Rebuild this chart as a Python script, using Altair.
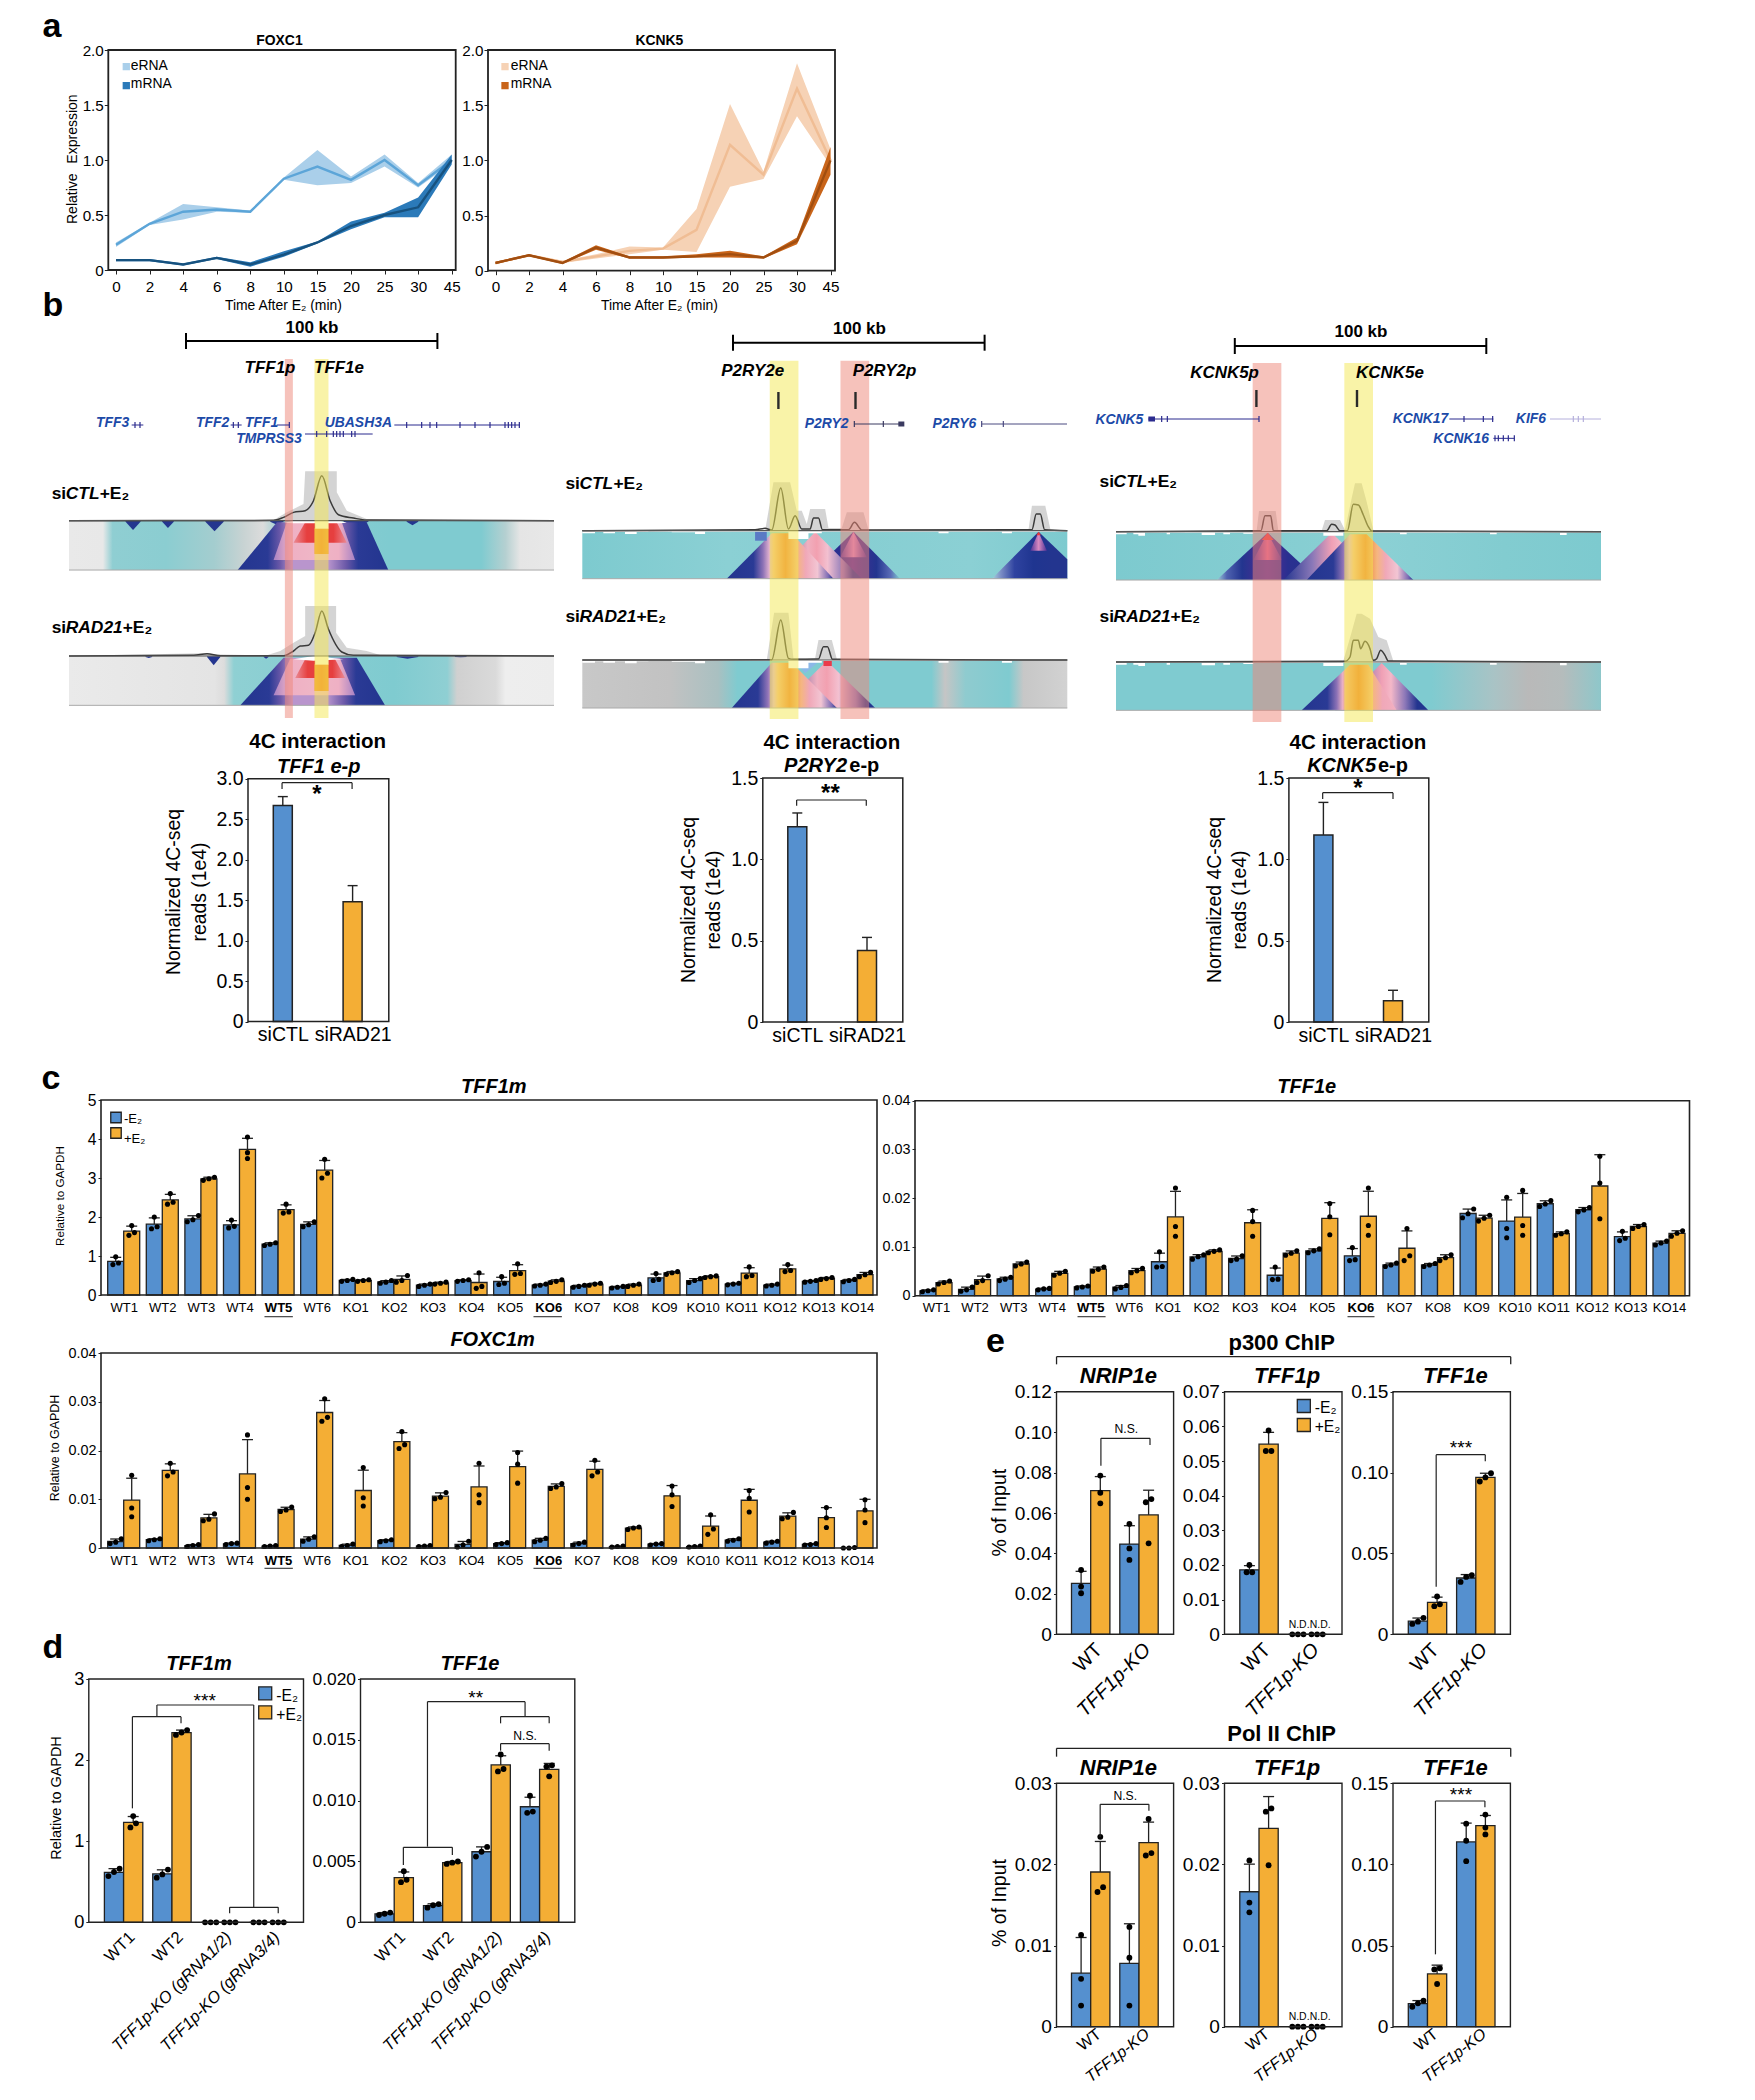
import json
import numpy as np
import pandas as pd
import altair as alt

W, H = 1739, 2084
NARROW = "__narrow"
SANS = "Liberation Sans"
NS = .87
BLUE, ORANGE = "#5590cf", "#f4ae35"
INK = "#222222"
TEAL = "#7fcbd0"

# ---------- data: panel a ----------
TIMES = ["0", "2", "4", "6", "8", "10", "15", "20", "25", "30", "45"]
FOX_E = [.23, .42, .53, .55, .53, .83, .94, .82, 1.0, .77, 1.0]
FOX_E_LO = [.21, .41, .46, .53, .52, .82, .77, .79, .94, .75, .97]
FOX_E_HI = [.25, .43, .60, .57, .54, .84, 1.09, .85, 1.05, .79, 1.05]
FOX_M = [.09, .09, .05, .11, .05, .14, .25, .40, .50, .57, 1.0]
FOX_M_LO = [.08, .08, .04, .10, .03, .12, .24, .37, .48, .48, .96]
FOX_M_HI = [.10, .10, .06, .12, .07, .17, .26, .44, .52, .66, 1.05]
KCN_E = [.07, .14, .08, .13, .18, .20, .37, 1.14, .87, 1.65, 1.0]
KCN_E_LO = [.06, .13, .07, .11, .15, .19, .17, .76, .83, 1.40, .95]
KCN_E_HI = [.08, .15, .09, .15, .22, .21, .56, 1.51, .90, 1.88, 1.10]
KCN_M = [.07, .14, .07, .21, .12, .12, .13, .15, .12, .27, 1.0]
KCN_M_LO = [.06, .13, .06, .19, .11, .11, .12, .12, .11, .24, .87]
KCN_M_HI = [.08, .15, .08, .23, .13, .13, .15, .18, .13, .30, 1.12]

# ---------- data: panel b, 4C ----------
FOURC_LABELS = ["siCTL", "siRAD21"]
FOURC_TFF1 = [2.67, 1.48]
FOURC_TFF1_ERR = [.11, .20]
FOURC_P2RY2 = [1.20, .44]
FOURC_P2RY2_ERR = [.085, .08]
FOURC_KCNK5 = [1.15, .13]
FOURC_KCNK5_ERR = [.20, .065]

# ---------- data: panel b, signal tracks ----------
C1R1_GX = [25, 640, 680, 730, 735, 830, 830, 860, 920, 1483]
C1R1_GY = [0, 2, 25, 50, 148, 148, 85, 30, 5, 0]
C1R1_LX = [25, 640, 670, 700, 735, 760, 785, 810, 835, 880, 920, 1483]
C1R1_LY = [0, 1, 10, 25, 30, 60, 135, 60, 18, 8, 2, 0]
C1R2_GX = [25, 420, 460, 620, 660, 700, 735, 735, 828, 828, 860, 920, 960, 1483]
C1R2_GY = [0, 8, 5, 2, 15, 40, 60, 150, 150, 70, 25, 15, 3, 0]
C1R2_LX = [25, 400, 440, 480, 670, 700, 720, 745, 765, 785, 805, 845, 880, 1483]
C1R2_LY = [0, 2, 7, 1, 1, 15, 30, 32, 70, 135, 80, 12, 2, 0]
C2R1_GX = [22, 570, 595, 645, 665, 680, 695, 705, 750, 760, 800, 815, 865, 880, 1360, 1370, 1410, 1425, 1476]
C2R1_GY = [0, 0, 145, 145, 60, 60, 20, 65, 65, 8, 8, 55, 55, 3, 5, 75, 75, 5, 0]
C2R1_LX = [22, 540, 570, 590, 617, 640, 660, 680, 705, 715, 730, 742, 820, 838, 860, 1370, 1383, 1395, 1408, 1476]
C2R1_LY = [0, 3, 7, 2, 128, 5, 45, 5, 5, 38, 38, 3, 3, 25, 2, 3, 50, 50, 3, 0]
C2R2_GX = [22, 575, 597, 640, 655, 720, 730, 770, 785, 1476]
C2R2_GY = [0, 0, 142, 142, 5, 5, 60, 60, 3, 0]
C2R2_LX = [22, 590, 617, 640, 655, 730, 745, 757, 772, 1476]
C2R2_LY = [0, 1, 120, 5, 2, 3, 40, 40, 2, 0]
C3R1_GX = [18, 440, 447, 497, 505, 635, 645, 690, 705, 725, 735, 755, 770, 790, 1473]
C3R1_GY = [0, 3, 62, 62, 3, 3, 35, 35, 5, 100, 145, 145, 90, 5, 0]
C3R1_LX = [18, 453, 465, 482, 490, 650, 665, 675, 690, 712, 730, 745, 760, 775, 785, 1473]
C3R1_LY = [0, 3, 48, 48, 3, 3, 22, 20, 3, 3, 82, 80, 50, 15, 2, 0]
C3R2_GX = [18, 700, 725, 740, 755, 780, 805, 830, 850, 1473]
C3R2_GY = [0, 3, 90, 145, 145, 130, 75, 65, 3, 0]
C3R2_LX = [18, 705, 720, 730, 745, 752, 765, 780, 790, 800, 812, 825, 835, 1473]
C3R2_LY = [0, 2, 15, 65, 65, 40, 62, 40, 5, 10, 35, 20, 3, 0]
C2_NOTCH_X = [22, 60, 85, 120, 150, 185, 220, 290, 360, 390, 600, 640, 700, 740, 880, 1090, 1120, 1280, 1310, 1476]
C2_NOTCH_D = [8, 4, 8, 4, 10, 4, 3, 5, 10, 3, 3, 25, 8, 3, 3, 8, 3, 8, 3, 3]
C3_NOTCH_X = [18, 50, 70, 85, 105, 170, 180, 275, 315, 340, 360, 400, 430, 520, 640, 700, 870, 890, 1140, 1160, 1280, 1350, 1370, 1473]
C3_NOTCH_D = [8, 3, 8, 12, 3, 8, 3, 10, 3, 8, 3, 6, 3, 3, 12, 3, 8, 3, 8, 3, 3, 10, 3, 3]

# ---------- data: panel c ----------
CLONES = ["WT1", "WT2", "WT3", "WT4", "WT5", "WT6"] + [f"KO{i}" for i in range(1, 15)]
TFF1M_B = [[.78, .82, .98], [1.7, 1.75, 2.0], [1.88, 1.93, 2.04], [1.72, 1.76, 1.92], [1.27, 1.3, 1.34], [1.75, 1.8, 1.88],
           [.35, .37, .4], [.3, .33, .37], [.22, .25, .28], [.35, .37, .39], [.27, .3, .47], [.23, .25, .28], [.2, .22, .25],
           [.18, .2, .22], [.37, .4, .55], [.32, .37, .42], [.26, .28, .3], [.23, .25, .28], [.33, .35, .37], [.34, .37, .4]]
TFF1M_O = [[1.53, 1.6, 1.78], [2.33, 2.38, 2.6], [2.94, 2.98, 3.02], [3.5, 3.65, 4.05], [2.1, 2.13, 2.33], [3.0, 3.12, 3.48],
           [.35, .37, .39], [.33, .37, .5], [.28, .3, .33], [.17, .22, .57], [.53, .55, .8], [.32, .35, .39], [.25, .28, .3],
           [.22, .25, .28], [.53, .57, .6], [.45, .47, .49], [.47, .5, .72], [.6, .63, .78], [.4, .42, .45], [.47, .52, .58]]
TFF1E_B = [[.0008, .001, .0012], [.0009, .0012, .0018], [.0031, .0034, .0038], [.0012, .0014, .0015], [.0016, .0018, .002],
           [.0014, .0017, .0021], [.0059, .006, .009], [.0075, .008, .0084], [.0072, .0075, .0082], [.0033, .0034, .0059],
           [.0088, .0092, .0096], [.0072, .0074, .0099], [.006, .0063, .0067], [.006, .0063, .0066], [.016, .0168, .0178],
           [.0119, .0138, .0202], [.0183, .0188, .0195], [.0172, .0176, .0181], [.0113, .0118, .0132], [.0104, .0108, .0112]]
TFF1E_O = [[.0024, .0027, .003], [.0027, .0031, .0041], [.0061, .0065, .0069], [.0042, .0046, .005], [.005, .0054, .0059],
           [.0047, .0051, .0056], [.0122, .0142, .0221], [.0088, .0091, .0094], [.0122, .0152, .0175], [.0083, .0087, .0092],
           [.0125, .0162, .0189], [.0124, .0144, .0221], [.0072, .0082, .0138], [.0072, .0078, .0084], [.0153, .0159, .0165],
           [.0124, .0144, .0216], [.0124, .0127, .0131], [.0158, .0231, .0286], [.0138, .0142, .0146], [.0122, .0128, .0133]]
FOXC_B = [[.0009, .0012, .0019], [.0015, .0017, .0019], [.0003, .0005, .0007], [.0007, .0009, .001], [.0003, .0004, .0005],
          [.0014, .0018, .0023], [.0003, .0005, .0008], [.0013, .0015, .0017], [.0003, .0004, .0005], [.0002, .0006, .0014],
          [.0007, .0009, .0011], [.0013, .0016, .002], [.0006, .0009, .0012], [.0002, .0003, .0004], [.0006, .0008, .0009],
          [.0002, .0003, .0004], [.0014, .0016, .0019], [.001, .0012, .0014], [.0006, .0007, .0009], [0, 0, .0001]]
FOXC_O = [[.0064, .0082, .0149], [.0148, .0156, .0174], [.0056, .0059, .007], [.01, .0124, .0232], [.0075, .0078, .0084],
          [.026, .0268, .0306], [.0086, .0103, .0165], [.0204, .0212, .0239], [.0101, .0104, .0114], [.0093, .0109, .0174],
          [.0133, .0172, .0196], [.0122, .0125, .0132], [.0148, .0156, .018], [.0038, .0041, .0043], [.0085, .0109, .0127],
          [.0028, .0039, .0068], [.0074, .0102, .0118], [.006, .0063, .0073], [.0042, .0062, .0083], [.0052, .0078, .0099]]

# ---------- data: panel d ----------
D_GROUPS = ["WT1", "WT2", "TFF1p-KO (gRNA1/2)", "TFF1p-KO (gRNA3/4)"]
D1_B = [[.57, .62, .66], [.55, .59, .65], [0, 0, 0], [0, 0, 0]]
D1_O = [[1.17, 1.22, 1.31], [2.31, 2.34, 2.37], [0, 0, 0], [0, 0, 0]]
D2_B = [[.0006, .0007, .0008], [.0012, .0014, .0015], [.0054, .0058, .0062], [.0090, .0091, .0104]]
D2_O = [[.0033, .0035, .0042], [.0048, .0049, .005], [.0124, .0126, .0138], [.012, .0128, .0129]]

# ---------- data: panel e ----------
E_GROUPS = ["WT", "TFF1p-KO"]
P1_B = [[.0203, .0236, .0318], [.0368, .0425, .0546]]
P1_O = [[.0648, .07, .0785], [.045, .0653, .0669]]
P2_B = [[.0179, .0179, .02], [0, 0, 0]]
P2_O = [[.0529, .0529, .0588], [0, 0, 0]]
P3_B = [[.0064, .0078, .0102], [.0324, .0355, .0365]]
P3_O = [[.0174, .0186, .0234], [.0945, .097, .0996]]
Q1_B = [[.0026, .0059, .0113], [.0026, .0085, .0123]]
Q1_O = [[.0166, .0172, .0234], [.0211, .0214, .0256]]
Q2_B = [[.0141, .0153, .0205], [0, 0, 0]]
Q2_O = [[.0199, .0265, .0269], [0, 0, 0]]
Q3_B = [[.0123, .0144, .016], [.102, .1146, .1251]]
Q3_O = [[.0263, .0353, .036], [.1185, .1227, .1307]]

# ---------- helpers ----------
ZOOMS = {1: (1.782, 3, 0, 0), 2: (2.613, 2.06, 0, 290), 3: (1.479, 2.06, 560, 300), 4: (1.762, 3, 0, 1060),
         5: (1.889, 3, 870, 1060), 6: (1.762, 3, 0, 1330), 7: (2.613, 3, 0, 1620), 8: (2.75, 3, 970, 1320),
         9: (2.75, 3, 970, 1710), 10: (3, 3, 60, 400), 11: (3, 3, 575, 400), 12: (3, 3, 1110, 400)}


def zc(z, x, y):
    sx, sy, ox, oy = ZOOMS[z]
    return ox + x / sx, oy + y / sy


def Q(dom, rng):
    return alt.Scale(domain=list(dom), range=list(rng), nice=False, zero=False)


PX = Q((0, 1755), (-8, 1747))
PY = Q((0, 2100), (-8, 2092))


def G(stops):
    return alt.LinearGradient(gradient="linear", stops=[alt.GradientStop(offset=o, color=c) for o, c in stops],
                              x1=0, x2=1, y1=0, y2=0)


def fnt(font, size):
    if font == NARROW:
        return SANS, round(size * NS, 2)
    return font, size


TEXTS, RULES, SQUARES = [], [], []


def T(t, x, y, size, font=NARROW, weight="normal", style="normal", angle=0, align="center", color="black"):
    font, size = fnt(font, size)
    TEXTS.append(dict(t=t, x=x, y=y, size=size, font=font, weight=weight, style=style, angle=angle, align=align, color=color))


def Tz(z, t, zx, zy, size, **k):
    x, y = zc(z, zx, zy)
    T(t, x, y, size, **k)


def R(x0, y0, x1, y1, color=INK, sw=1.2):
    RULES.append(dict(x=x0, y=y0, x2=x1, y2=y1, color=color, sw=sw))


def Rz(z, zx0, zy0, zx1, zy1, color=INK, sw=1.2):
    a = zc(z, zx0, zy0)
    b = zc(z, zx1, zy1)
    R(a[0], a[1], b[0], b[1], color, sw)


def bracket(z, x0, x1, y, d0, d1, sw=1.2):
    Rz(z, x0, y, x1, y, sw=sw)
    Rz(z, x0, y, x0, d0, sw=sw)
    Rz(z, x1, y, x1, d1, sw=sw)


def yaxis(px, vals, fmt, size, font=NARROW, pad=2, tick=3):
    font, size = fnt(font, size)
    expr = f"datum.value==0?'0':format(datum.value,'{fmt}')"
    return alt.Axis(orient="left", offset=-(px - 8), values=vals, labelExpr=expr, title=None, grid=False, domain=False,
                    tickColor=INK, tickSize=tick, labelFont=font, labelFontSize=size, labelColor="black",
                    labelPadding=pad, labelOverlap=False, labelFlush=False, labelBound=False)


def xaxis(py, names, size, font=NARROW, pad=6, tick=3, angle=None, **extra):
    font, size = fnt(font, size)
    expr = f"{json.dumps(names)}[datum.value]"
    kw = dict(orient="bottom", offset=(py - 8) - H, values=list(range(len(names))), labelExpr=expr, title=None, grid=False,
              domain=False, tickColor=INK, tickSize=tick, labelFont=font, labelFontSize=size, labelColor="black",
              labelPadding=pad, labelOverlap=False, labelFlush=False, labelBound=False)
    if angle is not None:
        kw.update(labelAngle=angle, labelAlign="right", labelBaseline="middle")
    kw.update(extra)
    return alt.Axis(**kw)


def frame(sx, sy, ax, ay, sw=1.4):
    d = pd.DataFrame([dict(a=sx["domain"][0], b=sx["domain"][1], c=sy["domain"][0], d=sy["domain"][1])])
    return alt.Chart(d).mark_rect(fillOpacity=0, stroke=INK, strokeWidth=sw).encode(
        x=alt.X("a:Q", scale=alt.Scale(**sx), axis=ax), x2="b:Q",
        y=alt.Y("c:Q", scale=alt.Scale(**sy), axis=ay), y2="d:Q")


def sdict(dom, rng):
    return dict(domain=list(dom), range=list(rng), nice=False, zero=False)


def group_dom(x0, x1, c0, c1, n):
    step = (c1 - c0) / (n - 1)
    return ((x0 - c0) / step, (n - 1) + (x1 - c1) / step), step


def swarm(vals, py, dx, t=5.5):
    p = [v * py for v in vals]
    d0, d1 = p[1] - p[0], p[2] - p[1]
    if d0 < t and d1 < t:
        return [-dx, 0, dx]
    if d0 < t:
        return [-dx / 2, dx / 2, 0]
    if d1 < t:
        return [0, -dx / 2, dx / 2]
    return [0, 0, 0]


def bar_panel(x0, x1, y0, y1, c0, c1, blue, orange, names, ymax, yvals, fmt, barw, ysize, xsize, font=NARROW,
              xangle=None, xpad=6, xtick=3, ypad=2, dot=28, xextra=None, ftw=1.4):
    n = len(names)
    dom, step = group_dom(x0, x1, c0, c1, n)
    w = barw / step
    sx = sdict(dom, (x0 - 8, x1 - 8))
    sy = sdict((0, ymax), (y1 - 8, y0 - 8))
    py = (y1 - y0) / ymax
    bars, pts, errs = [], [], []
    for i in range(n):
        for lab, reps, xa, xb in (("-E2", blue[i], i - w, i), ("+E2", orange[i], i, i + w)):
            m = float(np.mean(reps))
            bars.append(dict(x=xa, x2=xb, v=m, b=0, s=lab))
            cx = (xa + xb) / 2
            for v, o in zip(reps, swarm(reps, py, 5.6 / step)):
                pts.append(dict(x=cx + o, v=v))
            if m > 0:
                e = m + float(np.std(reps, ddof=1))
                errs.append(dict(x=cx, xa=cx - 5.5 / step, xb=cx + 5.5 / step, v=m, e=e))
    ssx, ssy = alt.Scale(**sx), alt.Scale(**sy)
    ax = xaxis(y1, names, xsize, font=font, angle=xangle, pad=xpad, tick=xtick, **(xextra or {}))
    ay = yaxis(x0, yvals, fmt, ysize, font=font, pad=ypad)
    X = lambda f: alt.X(f, scale=ssx, axis=ax)
    Y = lambda f: alt.Y(f, scale=ssy, axis=ay)
    color = alt.Color("s:N", scale=alt.Scale(domain=["-E2", "+E2"], range=[BLUE, ORANGE]), legend=None)
    lb = alt.Chart(pd.DataFrame(bars)).mark_rect(stroke=INK, strokeWidth=1.3).encode(x=X("x:Q"), x2="x2:Q", y=Y("v:Q"), y2="b:Q", color=color)
    le1 = alt.Chart(pd.DataFrame(errs)).mark_rule(color=INK, strokeWidth=1.3).encode(x=X("x:Q"), y=Y("v:Q"), y2="e:Q")
    le2 = alt.Chart(pd.DataFrame(errs)).mark_rule(color=INK, strokeWidth=1.3).encode(x=X("xa:Q"), x2="xb:Q", y=Y("e:Q"))
    lp = alt.Chart(pd.DataFrame(pts)).mark_circle(color="black", size=dot, opacity=1).encode(x=X("x:Q"), y=Y("v:Q"))
    return alt.layer(lb, le1, le2, lp, frame(sx, sy, ax, ay, ftw))


def line_panel(x0, x1, y0, y1, c0, c1, series):
    dom, step = group_dom(x0, x1, c0, c1, len(TIMES))
    sx = sdict(dom, (x0 - 8, x1 - 8))
    sy = sdict((0, 2), (y1 - 8, y0 - 8))
    ssx, ssy = alt.Scale(**sx), alt.Scale(**sy)
    ax = xaxis(y1, TIMES, 17.5, pad=5, tick=4)
    ay = yaxis(x0, [0, .5, 1, 1.5, 2], ".1f", 17.5, pad=1, tick=4)
    layers = []
    for mean, lo, hi, band, line in series:
        d = pd.DataFrame(dict(i=range(len(TIMES)), m=mean, lo=lo, hi=hi))
        layers.append(alt.Chart(d).mark_area(color=band, opacity=1).encode(
            x=alt.X("i:Q", scale=ssx, axis=ax), y=alt.Y("lo:Q", scale=ssy, axis=ay), y2="hi:Q"))
        layers.append(alt.Chart(d).mark_line(color=line, strokeWidth=2.4).encode(
            x=alt.X("i:Q", scale=ssx, axis=ax), y=alt.Y("m:Q", scale=ssy, axis=ay)))
    return alt.layer(*layers, frame(sx, sy, ax, ay, 1.8))


def fourc_panel(x0, x1, y0, y1, c0, c1, vals, errs, ymax, yvals, fmt):
    dom, step = group_dom(x0, x1, c0, c1, 2)
    w = 19.0 / step / 2
    sx = sdict(dom, (x0 - 8, x1 - 8))
    sy = sdict((0, ymax), (y1 - 8, y0 - 8))
    ssx, ssy = alt.Scale(**sx), alt.Scale(**sy)
    ax = xaxis(y1, FOURC_LABELS, 19.5, font=SANS, pad=4, tick=0)
    ay = yaxis(x0, yvals, fmt, 19.5, font=SANS, pad=2, tick=3)
    d = pd.DataFrame(dict(x=[0 - w, 1 - w], x2=[0 + w, 1 + w], c=[0, 1], v=vals, e=[a + b for a, b in zip(vals, errs)],
                          b=[0, 0], xa=[-5 / step, 1 - 5 / step], xb=[5 / step, 1 + 5 / step], s=["-E2", "+E2"]))
    color = alt.Color("s:N", scale=alt.Scale(domain=["-E2", "+E2"], range=[BLUE, ORANGE]), legend=None)
    lb = alt.Chart(d).mark_rect(stroke=INK, strokeWidth=1.5).encode(
        x=alt.X("x:Q", scale=ssx, axis=ax), x2="x2:Q", y=alt.Y("v:Q", scale=ssy, axis=ay), y2="b:Q", color=color)
    e1 = alt.Chart(d).mark_rule(color=INK, strokeWidth=1.4).encode(
        x=alt.X("c:Q", scale=ssx, axis=ax), y=alt.Y("v:Q", scale=ssy, axis=ay), y2="e:Q")
    e2 = alt.Chart(d).mark_rule(color=INK, strokeWidth=1.4).encode(
        x=alt.X("xa:Q", scale=ssx, axis=ax), x2="xb:Q", y=alt.Y("e:Q", scale=ssy, axis=ay))
    return alt.layer(lb, e1, e2, frame(sx, sy, ax, ay, 1.5))


class Heat:
    def __init__(self, left, base, z0, z1, depth):
        self.sx = alt.Scale(**sdict((z0, z1), (left - 8, left + 485 - 8)))
        self.sy = alt.Scale(**sdict((-150, 150), (base - 8 + 50, base - 8 - 50)))
        self.z0, self.z1, self.depth = z0, z1, depth
        self.layers = []

    def poly(self, xs, tops, fill, bots=None, opacity=1, step=False):
        if bots is None:
            bots = [-self.depth] * len(xs)
        elif isinstance(bots, (int, float)):
            bots = [bots] * len(xs)
        d = pd.DataFrame(dict(x=xs, t=tops, b=bots))
        kw = dict(opacity=opacity, color=fill, line=False)
        if step:
            kw["interpolate"] = "step-after"
        self.layers.append(alt.Chart(d).mark_area(**kw).encode(
            x=alt.X("x:Q", scale=self.sx, axis=None), y=alt.Y("t:Q", scale=self.sy, axis=None), y2="b:Q"))

    def blob(self, a, b, dep, color="#24368f"):
        self.poly([a, (a + b) / 2, b], [-1, -1, -1], color, bots=[-3, -dep, -3])

    def track(self, gx, gy, lx, ly):
        self.poly(gx, gy, "#b9b9b9", bots=[0] * len(gx), opacity=.62)
        d = pd.DataFrame(dict(x=lx, y=ly))
        self.layers.append(alt.Chart(d).mark_line(color="#3a3a3a", strokeWidth=1.5, interpolate="monotone").encode(
            x=alt.X("x:Q", scale=self.sx, axis=None), y=alt.Y("y:Q", scale=self.sy, axis=None)))
        b = pd.DataFrame(dict(x=[self.z0, self.z1], y=[0, 0], d=[-self.depth, -self.depth]))
        self.layers.append(alt.Chart(b).mark_line(color="#555555", strokeWidth=1.2).encode(
            x=alt.X("x:Q", scale=self.sx, axis=None), y=alt.Y("y:Q", scale=self.sy, axis=None)))
        self.layers.append(alt.Chart(b).mark_line(color="#aaaaaa", strokeWidth=1).encode(
            x=alt.X("x:Q", scale=self.sx, axis=None), y=alt.Y("d:Q", scale=self.sy, axis=None)))

    def chart(self):
        return alt.layer(*self.layers)


def strips(left, z0, z1, yt, yb, items):
    sx = alt.Scale(**sdict((z0, z1), (left - 8, left + 485 - 8)))
    out = []
    for a, b, col in items:
        d = pd.DataFrame(dict(a=[a], b=[b]))
        out.append(alt.Chart(d).mark_rect(color=col, opacity=.5).encode(
            x=alt.X("a:Q", scale=sx, axis=None), x2="b:Q", y=alt.value(yt - 8), y2=alt.value(yb - 8)))
    return alt.layer(*out)


PINK, YEL = "#ed8577", "#f3e751"

ENH = G([(0, "#23358f"), (.25, "#2a3a95"), (.34, "#8d72b6"), (.4, "#e2b2cf"), (.44, "#f5b67f"), (.55, "#ef8030"),
         (.66, "#f5b67f"), (.74, "#f0a8b8"), (.85, "#f2c5d3"), (.95, "#7f6db5"), (1, "#23358f")])
ENH2 = G([(0, "#23358f"), (.27, "#2a3a95"), (.37, "#8d72b6"), (.43, "#e8b0c5"), (.47, "#f5a96f"), (.6, "#ef7a25"),
          (.75, "#f5b67f"), (.85, "#f0a8b8"), (1, "#f2b0c2")])
PROM = G([(0, "#23358f"), (.35, "#2a2f90"), (.45, "#3f2f92"), (.5, "#4f2f96"), (.56, "#3f2f92"), (.75, "#23358f"),
          (.9, "#5a6cb6"), (1, TEAL)])
GLOW = G([(0, "#4a2f96"), (.5, "#d98ac0"), (1, "#4a2f96")])
GLOW2 = G([(0, "#4a2f96"), (.5, "#e0608f"), (1, "#4a2f96")])
MID = G([(0, "#23358f"), (.4, "#f0b0c0"), (.5, "#f2a0b0"), (.62, "#f3c0d0"), (.8, "#8a78b8"), (.9, "#23358f"), (1, "#23358f")])
PEAK = G([(0, "#a5d2dc"), (.12, "#7b8dc5"), (.3, "#2f43a0"), (.55, "#1f3590"), (.8, "#23358f"), (1, "#23358f")])
KPROM = G([(0, "#9fd0dc"), (.1, "#4f63b0"), (.25, "#23358f"), (.4, "#3f2f92"), (.5, "#4f2f96"), (.6, "#3f2f92"), (.7, "#2a2f90"), (1, "#23358f")])
K2 = G([(0, "#23358f"), (.3, "#8a78b8"), (.5, "#f0a0b5"), (.6, "#f4b8c8"), (.75, "#8d78b8"), (.88, "#23358f"), (1, "#23358f")])
C1TOP = G([(0, "#23358f"), (.2, "#2a3a95"), (.28, "#6a58a8"), (.36, "#b995cd"), (.6, "#b995cd"), (.72, "#6a58a8"), (.8, "#2a3a95"), (1, "#23358f")])
C1PINK = G([(0, "#a882c4"), (.2, "#efb0c4"), (.5, "#efb6c6"), (.8, "#efb0c4"), (1, "#a882c4")])
C1RED = G([(0, "#ea8a94"), (.25, "#e63f3f"), (.75, "#e63f3f"), (1, "#ea8a94")])
C1ORG = G([(0, "#f0902c"), (.5, "#f07c20"), (1, "#f0902c")])

panels = []

# ---------- panel a ----------
panels.append(line_panel(108.3, 455.7, 50, 270, 116, 451.7, [
    (FOX_E, FOX_E_LO, FOX_E_HI, "#aacfea", "#5ca5d8"),
    (FOX_M, FOX_M_LO, FOX_M_HI, "#2b7ab9", "#17527f")]))
panels.append(line_panel(488, 835, 50, 270.7, 495.5, 830.5, [
    (KCN_E, KCN_E_LO, KCN_E_HI, "#f6d2b5", "#f0bd94"),
    (KCN_M, KCN_M_LO, KCN_M_HI, "#c9651a", "#a14e10")]))

# ---------- panel b: heat rows ----------
h = Heat(69, 520.7, 25, 1483, 148)
h.poly([25, 45, 1460, 1483], [0, 0, 0, 0], G([(0, "#e9e9e9"), (.07, "#e8e8e8"), (.09, "#8fced2"), (.2, "#8bcdd1"), (.3, "#a4cdcf"), (.36, "#c8d3d3"),
       (.4, "#dcdcdc"), (.44, "#8fcdd1"), (.66, TEAL), (.85, TEAL), (.9, "#b5d0d1"), (.93, "#e5e5e5"), (1, "#e8e8e8")]))
for a, b, dep in [(195, 240, 28), (305, 340, 22), (435, 490, 32), (1040, 1075, 14), (630, 670, 12), (850, 925, 18)]:
    h.blob(a, b, dep)
h.poly([532, 650, 920, 985], [-148, -5, -5, -148], C1TOP)
h.poly([640, 680, 845, 885], [-118, -5, -5, -118], C1PINK, bots=-118)
h.poly([700, 735, 830, 860], [-66, -5, -5, -66], C1RED, bots=-66)
h.poly([763, 805], [-22, -22], C1ORG, bots=-100)
h.poly([672, 700, 840, 860], [-6, 0, 0, -6], "#ffffff", bots=[-6, -8, -8, -6])
h.poly([765, 805], [0, 0], "#fffbe0", bots=[-24, -24])
h.track(C1R1_GX, C1R1_GY, C1R1_LX, C1R1_LY)
panels.append(h.chart())

h = Heat(69, 656, 25, 1483, 148)
h.poly([25, 45, 1460, 1483], [0, 0, 0, 0], G([(0, "#eaeaea"), (.3, "#e4e4e4"), (.32, "#dcdcdc"), (.34, "#8fd0d3"), (.67, TEAL), (.78, "#8fcfd3"),
       (.8, "#d0d0d0"), (.88, "#dadada"), (.9, "#eeeeee"), (1, "#ededed")]))
for a, b, dep in [(440, 480, 28), (255, 275, 6), (610, 625, 8), (1010, 1075, 8), (1185, 1220, 4)]:
    h.blob(a, b, dep)
h.poly([540, 670, 890, 975], [-148, -5, -5, -148], C1TOP)
h.poly([640, 690, 840, 885], [-118, -8, -8, -118], C1PINK, bots=-118)
h.poly([705, 735, 825, 855], [-66, -10, -10, -66], C1RED, bots=-66)
h.poly([763, 805], [-24, -24], C1ORG, bots=-105)
h.poly([700, 760, 850], [-10, 0, -10], "#ffffff", bots=[-10, -14, -10])
h.poly([765, 805], [0, 0], "#fffbe0", bots=[-26, -26])
h.track(C1R2_GX, C1R2_GY, C1R2_LX, C1R2_LY)
panels.append(h.chart())

h = Heat(582.3, 530.7, 22, 1476, 144)
h.poly([22, 1476], [0, 0], G([(0, "#7dcacf"), (.3, "#8bd0d4"), (.55, "#86ced2"), (.8, "#8bd0d4"), (1, "#7dcacf")]))
h.poly([1250, 1390, 1476, 1476], [-144, -3, -86, -144], PEAK)
h.poly([1365, 1390, 1415], [-60, -5, -60], GLOW, bots=-60)
h.poly([1383, 1390, 1397], [-14, -3, -14], "#ea3b3b", bots=-14)
h.poly([690, 835, 975], [-144, -3, -144], PROM)
h.poly([795, 835, 875], [-80, -3, -80], GLOW, bots=-80)
h.poly([590, 720, 860], [-144, -3, -144], MID)
h.poly([455, 590, 650, 775], [-144, -8, -8, -144], ENH)
h.poly([540, 575], [-2, -2], "#5a7ac5", bots=-30)
h.poly(C2_NOTCH_X, [0] * len(C2_NOTCH_X), "#ffffff", bots=[-d for d in C2_NOTCH_D], step=True)
h.track(C2R1_GX, C2R1_GY, C2R1_LX, C2R1_LY)
panels.append(h.chart())

h = Heat(582.3, 660, 22, 1476, 144)
h.poly([22, 1476], [0, 0], G([(0, "#c8c8c8"), (.18, "#c2c2c2"), (.28, "#a9c0c1"), (.32, TEAL), (.72, TEAL), (.748, "#c5c5c5"), (.79, "#8fcbcf"),
       (.88, TEAL), (.91, "#c7c7c7"), (1, "#d2d2d2")]))
h.poly([610, 755, 900], [-144, -3, -144], MID)
h.poly([470, 590, 650, 785], [-144, -8, -8, -144], ENH)
h.poly([665, 690, 725], [-2, -2, -2], "#8bb8e8", bots=[-10, -40, -10])
h.poly([745, 770], [-3, -3], "#ea3b4a", bots=-18)
h.poly(C2_NOTCH_X, [0] * len(C2_NOTCH_X), "#ffffff", bots=[-d for d in C2_NOTCH_D], step=True)
h.track(C2R2_GX, C2R2_GY, C2R2_LX, C2R2_LY)
panels.append(h.chart())

h = Heat(1116, 531.7, 18, 1473, 145)
h.poly([18, 1473], [0, 0], G([(0, "#7dcacf"), (.3, "#84cdd1"), (.55, "#8bd0d4"), (.8, "#82ccd0"), (1, "#7dcacf")]))
h.poly([320, 473, 625], [-145, -3, -145], KPROM)
h.poly([430, 473, 516], [-85, -3, -85], GLOW2, bots=-85)
h.poly([520, 665, 810], [-145, -3, -145], K2)
h.poly([590, 720, 770, 910], [-145, -8, -8, -145], ENH)
h.poly([455, 473, 491], [-25, -3, -25], "#ea3b3b", bots=-25)
h.poly(C3_NOTCH_X, [0] * len(C3_NOTCH_X), "#ffffff", bots=[-d for d in C3_NOTCH_D], step=True)
h.track(C3R1_GX, C3R1_GY, C3R1_LX, C3R1_LY)
panels.append(h.chart())

h = Heat(1116, 662, 18, 1473, 145)
h.poly([18, 1473], [0, 0], G([(0, TEAL), (.65, TEAL), (.78, "#a9c3c5"), (.85, "#b9b9b9"), (.92, "#b5bcbc"), (1, "#8ec7ca")]))
h.poly([675, 815, 955], [-145, -3, -145], K2)
h.poly([575, 720, 775, 860], [-145, -8, -8, -145], ENH2)
h.poly(C3_NOTCH_X, [0] * len(C3_NOTCH_X), "#ffffff", bots=[-d for d in C3_NOTCH_D], step=True)
h.track(C3R2_GX, C3R2_GY, C3R2_LX, C3R2_LY)
panels.append(h.chart())

panels.append(strips(69, 25, 1483, 359, 718, [(674, 698, PINK), (763, 805, YEL)]))
panels.append(strips(582.3, 22, 1476, 360.7, 719, [(584, 670, YEL), (796, 882, PINK)]))
panels.append(strips(1116, 18, 1473, 363, 722, [(428, 514, PINK), (703, 789, YEL)]))

# ---------- panel b: 4C bars ----------
panels.append(fourc_panel(248, 388.8, 778.8, 1021.6, 282.8, 352.6, FOURC_TFF1, FOURC_TFF1_ERR, 3, [0, .5, 1, 1.5, 2, 2.5, 3], ".1f"))
panels.append(fourc_panel(762.8, 902.8, 778, 1022, 797.3, 867, FOURC_P2RY2, FOURC_P2RY2_ERR, 1.5, [0, .5, 1, 1.5], ".1f"))
panels.append(fourc_panel(1288.9, 1428.8, 778, 1022, 1323.4, 1393, FOURC_KCNK5, FOURC_KCNK5_ERR, 1.5, [0, .5, 1, 1.5], ".1f"))

# ---------- panel c ----------
BOLD_C = {"labelFontWeight": {"condition": {"test": "datum.value==4||datum.value==11", "value": "bold"}, "value": "normal"}}
panels.append(bar_panel(101, 877, 1100, 1295, 123.7, 857, TFF1M_B, TFF1M_O, CLONES, 5, [0, 1, 2, 3, 4, 5], ".0f", 16, 18, 15,
                        xpad=6, xtick=0, dot=26, xextra=BOLD_C, ftw=1.6))
panels.append(bar_panel(915, 1689.5, 1100.7, 1295.7, 936, 1669, TFF1E_B, TFF1E_O, CLONES, .04, [0, .01, .02, .03, .04], ".2f", 16, 16.5, 15,
                        xpad=6, xtick=0, dot=26, xextra=BOLD_C, ftw=1.6))
panels.append(bar_panel(101, 877, 1353, 1548, 123.7, 857, FOXC_B, FOXC_O, CLONES, .04, [0, .01, .02, .03, .04], ".2f", 16, 16.5, 15,
                        xpad=6, xtick=0, dot=26, xextra=BOLD_C, ftw=1.6))

# ---------- panel d ----------
ITAL_D = {"labelFontStyle": {"condition": {"test": "datum.value>=2", "value": "italic"}, "value": "normal"}, "labelOffset": 8}
panels.append(bar_panel(88.8, 303.5, 1679, 1922.3, 123.6, 268.6, D1_B, D1_O, D_GROUPS, 3, [0, 1, 2, 3], ".0f", 19.2, 21, 19,
                        xangle=315, xpad=12, xtick=0, dot=34, xextra=ITAL_D))
panels.append(bar_panel(360.5, 574.8, 1679, 1922.3, 394.2, 539.6, D2_B, D2_O, D_GROUPS, .02, [0, .005, .01, .015, .02], ".3f", 19.2, 20, 19,
                        xangle=315, xpad=12, xtick=0, dot=34, xextra=ITAL_D))

# ---------- panel e ----------
ITAL_E = {"labelFontStyle": {"condition": {"test": "datum.value>=1", "value": "italic"}, "value": "normal"}, "labelOffset": 8}
EX = [(1056.5, 1173.6, 1090.7, 1139), (1224.5, 1342, 1259, 1307.5), (1393, 1510.4, 1427.5, 1475.8)]
for (xa, xb, ca, cb), b, o, ym, yv, fmt in [
    (EX[0], P1_B, P1_O, .12, [0, .02, .04, .06, .08, .1, .12], ".2f"),
    (EX[1], P2_B, P2_O, .07, [0, .01, .02, .03, .04, .05, .06, .07], ".2f"),
    (EX[2], P3_B, P3_O, .15, [0, .05, .1, .15], ".2f")]:
    panels.append(bar_panel(xa, xb, 1391.7, 1634.3, ca, cb, b, o, E_GROUPS, ym, yv, fmt, 19.2, 22, 23, xangle=315, xpad=12,
                            xtick=0, dot=34, xextra=ITAL_E))
for (xa, xb, ca, cb), b, o, ym, yv, fmt in [
    (EX[0], Q1_B, Q1_O, .03, [0, .01, .02, .03], ".2f"),
    (EX[1], Q2_B, Q2_O, .03, [0, .01, .02, .03], ".2f"),
    (EX[2], Q3_B, Q3_O, .15, [0, .05, .1, .15], ".2f")]:
    panels.append(bar_panel(xa, xb, 1783.3, 2026.7, ca, cb, b, o, E_GROUPS, ym, yv, fmt, 19.2, 22, 18.5, xangle=322, xpad=5,
                            xtick=0, dot=34, xextra=ITAL_E))

# ---------- annotation: letters ----------
for t, x, y in [("a", 52, 27), ("b", 53, 306), ("c", 51, 1079), ("d", 53, 1648), ("e", 995.5, 1342)]:
    T(t, x, y, 34, font=SANS, weight="bold")

# ---------- annotation: panel a ----------
Tz(1, "FOXC1", 498, 122, 16, weight="bold")
Tz(1, "KCNK5", 1175, 122, 16, weight="bold")
T("Relative", 73, 198.7, 14, font=SANS, angle=270)
T("Expression", 73, 129, 14, font=SANS, angle=270)
Tz(1, "Time After E₂ (min)", 505, 917, 16)
Tz(1, "Time After E₂ (min)", 1175, 917, 16)
for x, y, col in [(126.3, 66.7, "#aacfea"), (126.3, 85.7, "#2b7ab9"), (505, 66.7, "#f6d2b5"), (505, 85.7, "#c9651a")]:
    SQUARES.append(dict(x=x, y=y, size=36, fill=col, stroke=col))
for x in (130.8, 510.7):
    T("eRNA", x, 65.7, 16, align="left")
    T("mRNA", x, 84.3, 16, align="left")

# ---------- annotation: panel b ----------
for x0, x1, xc, y, yt in [(186, 437.4, 312, 341, 328), (733, 984.6, 859.5, 342.7, 329), (1234.8, 1486.3, 1361, 346, 332)]:
    R(x0, y, x1, y, "black", 2)
    R(x0, y - 8, x0, y + 8, "black", 2)
    R(x1, y - 8, x1, y + 8, "black", 2)
    T("100 kb", xc, yt, 17, font=SANS, weight="bold")
for t, x, y in [("TFF1p", 270, 367.7), ("TFF1e", 339, 367.7), ("P2RY2e", 752.7, 371), ("P2RY2p", 884.5, 371), ("KCNK5p", 1224.6, 373), ("KCNK5e", 1390, 373)]:
    T(t, x, y, 19.5, weight="bold", style="italic")
for x, y0, y1 in [(778.4, 392, 409), (855.5, 392, 409), (1256.4, 390, 407), (1357, 390, 407)]:
    R(x, y0, x, y1, "#2a2a2a", 2.4)


def rowlabel(x, y, mid, w):
    T("si", x, y, 20, weight="bold", align="left")
    T(mid, x + 14, y, 20, weight="bold", style="italic", align="left")
    T("+E₂", x + 14 + w + 3, y, 20, weight="bold", align="left")


for x, y1, y2 in [(51.7, 494, 628), (565.4, 483.5, 617), (1099.6, 482, 616.5)]:
    rowlabel(x, y1, "CTL", 31)
    rowlabel(x, y2, "RAD21", 54)

GENE = "#1c4aa8"
NAVY = "#2b2b8e"


def gene(z, x0, x1, y, exons=(), color=NAVY, thick=None):
    Rz(z, x0, y, x1, y, color, 1)
    for e in exons:
        Rz(z, e, y - 9, e, y + 9, color, 1.2)
    if thick:
        Rz(z, thick[0], y, thick[1], y, color, 5)


for t, x, y in [("TFF3", 158, 68), ("TFF2", 458, 68), ("TFF1", 605, 68), ("TMPRSS3", 627, 117), ("UBASH3A", 895, 68)]:
    Tz(10, t, x, y, 16, weight="bold", style="italic", color=GENE)
gene(10, 215, 250, 75, (225, 240))
gene(10, 512, 545, 75, (520, 535))
gene(10, 650, 688, 75, (688,))
gene(10, 735, 938, 102, (770, 800, 820, 830, 840, 850, 875, 885))
gene(10, 1003, 1380, 75, (1040, 1085, 1110, 1130, 1200, 1245, 1290, 1335, 1345, 1355, 1365, 1378))
for t, x, y in [("P2RY2", 755, 72), ("P2RY6", 1138, 72)]:
    Tz(11, t, x, y, 16, weight="bold", style="italic", color=GENE)
gene(11, 838, 985, 72, (838, 925), "#3a3a60", (970, 988))
gene(11, 1220, 1476, 72, (1220, 1285), "#4a4a80")
Tz(12, "KCNK5", 100, 60, 16, weight="bold", style="italic", color=GENE, align="right")
Tz(12, "KCNK17", 1015, 57, 16, weight="bold", style="italic", color=GENE, align="right")
Tz(12, "KIF6", 1308, 57, 16, weight="bold", style="italic", color=GENE, align="right")
Tz(12, "KCNK16", 1137, 117, 16, weight="bold", style="italic", color=GENE, align="right")
gene(12, 115, 447, 57, (155, 172, 447), NAVY, (115, 135))
gene(12, 1018, 1150, 57, (1062, 1120, 1148))
gene(12, 1320, 1473, 57, (1390, 1405, 1420), "#b5b0dc")
gene(12, 1150, 1213, 115, (1155, 1165, 1180, 1195, 1213))

# 4C titles and brackets
Tz(2, "4C interaction", 830, 932, 20.5, font=SANS, weight="bold")
Tz(2, "TFF1 e-p", 833, 982, 20, font=SANS, weight="bold", style="italic")
Tz(3, "4C interaction", 402, 912, 20.5, font=SANS, weight="bold")
Tz(3, "P2RY2", 378, 960, 20, font=SANS, weight="bold", style="italic")
Tz(3, "e-p", 450, 960, 20, font=SANS, weight="bold")
Tz(3, "4C interaction", 1180, 912, 20.5, font=SANS, weight="bold")
Tz(3, "KCNK5", 1156, 960, 20, font=SANS, weight="bold", style="italic")
Tz(3, "e-p", 1232, 960, 20, font=SANS, weight="bold")
for xa, xb, yc in [(174, 200, 892), (688.5, 714, 900), (1214.5, 1239.5, 900)]:
    T("Normalized 4C-seq", xa, yc, 19.4, font=SANS, angle=270)
    T("reads (1e4)", xb, yc, 19.4, font=SANS, angle=270)
bracket(2, 737, 920, 1015, 1028, 1028)
Tz(2, "*", 828, 1040, 24, font=SANS, weight="bold")
bracket(3, 350, 453, 1030, 1042, 1042)
Tz(3, "**", 400, 1018, 24, font=SANS, weight="bold")
bracket(3, 1128, 1232, 1015, 1028, 1028)
Tz(3, "*", 1180, 1008, 24, font=SANS, weight="bold")

# ---------- annotation: panel c ----------
Tz(4, "TFF1m", 870, 82, 20, font=SANS, weight="bold", style="italic")
Tz(5, "TFF1e", 825, 82, 20, font=SANS, weight="bold", style="italic")
Tz(6, "FOXC1m", 868, 30, 20, font=SANS, weight="bold", style="italic")
T("Relative to GAPDH", 61, 1196, 13.4, angle=270)
T("Relative to GAPDH", 55, 1448, 14.3, angle=270)
SQUARES.append(dict(x=116, y=1117.5, size=110, fill=BLUE, stroke=INK))
SQUARES.append(dict(x=116, y=1133, size=110, fill=ORANGE, stroke=INK))
T("-E₂", 124, 1119, 15, align="left")
T("+E₂", 124, 1139, 15, align="left")
for z, a, b, y in [(4, 466, 516, 770), (4, 940, 990, 770), (5, 392, 445, 770), (5, 902, 953, 770), (6, 466, 516, 715), (6, 940, 990, 715)]:
    Rz(z, a, y, b, y, "#444444", 1.2)

# ---------- annotation: panel d ----------
Tz(7, "TFF1m", 520, 133, 20, font=SANS, weight="bold", style="italic")
Tz(7, "TFF1e", 1228, 133, 20, font=SANS, weight="bold", style="italic")
T("Relative to GAPDH", 57.4, 1798, 16.6, angle=270)
for zy, c, s in [(220, BLUE, "-E₂"), (277, ORANGE, "+E₂")]:
    x, y = zc(7, 693, zy)
    SQUARES.append(dict(x=x, y=y, size=169, fill=c, stroke=INK))
    Tz(7, s, 722, zy + 7, 18, align="left")
bracket(7, 410, 663, 255, 290, 862)
bracket(7, 346, 473, 290, 565, 310)
bracket(7, 600, 727, 862, 880, 880)
Tz(7, "***", 535, 243, 22)
bracket(7, 1117, 1372, 245, 680, 290)
bracket(7, 1054, 1182, 682, 735, 705)
bracket(7, 1308, 1435, 290, 310, 310)
bracket(7, 1308, 1435, 371, 392, 392)
Tz(7, "N.S.", 1372, 348, 14)
Tz(7, "**", 1243, 234, 22)

# ---------- annotation: panel e ----------
for z, tx, ty, ly, lb, sy in [(8, "p300 ChIP", 68, 110, 133, 168), (9, "Pol II ChIP", 72, 115, 140, 175)]:
    Tz(z, tx, 857, ty, 22, font=SANS, weight="bold")
    Rz(z, 238, ly, 1487, ly, INK, 1.3)
    Rz(z, 238, ly, 238, lb, INK, 1.3)
    Rz(z, 1487, ly, 1487, lb, INK, 1.3)
    for t, x in [("NRIP1e", 408), ("TFF1p", 872), ("TFF1e", 1335)]:
        Tz(z, t, x, sy, 22, font=SANS, weight="bold", style="italic")
T("% of Input", 1000, 1512.7, 19.5, font=SANS, angle=270)
T("% of Input", 1000, 1903, 19.5, font=SANS, angle=270)
for zy, c, s in [(258, BLUE, "-E₂"), (315, ORANGE, "+E₂")]:
    x, y = zc(8, 918, zy)
    SQUARES.append(dict(x=x, y=y, size=170, fill=c, stroke=INK))
    Tz(8, s, 948, zy + 5, 18, align="left")
bracket(8, 360, 495, 355, 437, 375)
Tz(8, "N.S.", 430, 327, 14)
bracket(8, 1282, 1417, 404, 800, 424)
Tz(8, "***", 1350, 385, 22)
bracket(9, 358, 492, 283, 382, 302)
Tz(9, "N.S.", 427, 257, 14)
bracket(9, 1280, 1416, 273, 733, 292)
Tz(9, "***", 1350, 255, 22)
for z, y in [(8, 915), (9, 922)]:
    Tz(z, "N.D.", 905, y, 12)
    Tz(z, "N.D.", 963, y, 12)

# ---------- page layer ----------
page = []
rd = pd.DataFrame(RULES)
for (col, sw), g in rd.groupby(["color", "sw"]):
    page.append(alt.Chart(g.drop(columns=["color", "sw"])).mark_rule(color=col, strokeWidth=sw).encode(
        x=alt.X("x:Q", scale=PX, axis=None), y=alt.Y("y:Q", scale=PY, axis=None), x2="x2:Q", y2="y2:Q"))
sd = pd.DataFrame(SQUARES)
for (size, fill, stroke), g in sd.groupby(["size", "fill", "stroke"]):
    page.append(alt.Chart(g[["x", "y"]]).mark_square(size=size, color=fill, opacity=1, stroke=stroke, strokeWidth=1.3).encode(
        x=alt.X("x:Q", scale=PX, axis=None), y=alt.Y("y:Q", scale=PY, axis=None)))
td = pd.DataFrame(TEXTS)
for key, g in td.groupby(["size", "font", "weight", "style", "angle", "align", "color"]):
    size, font, weight, style, angle, align, color = key
    page.append(alt.Chart(g[["t", "x", "y"]]).mark_text(
        fontSize=float(size), font=font, fontWeight=weight, fontStyle=style, angle=float(angle), align=align,
        baseline="middle", color=color).encode(
        x=alt.X("x:Q", scale=PX, axis=None), y=alt.Y("y:Q", scale=PY, axis=None), text="t:N"))
panels.append(alt.layer(*page))

chart = alt.layer(*panels).resolve_scale(x="independent", y="independent").properties(
    width=W, height=H, padding=0, autosize=alt.AutoSizeParams(type="none")).configure_view(stroke=None)

chart.save("out.html", embed_options={"renderer": "svg", "actions": False})
